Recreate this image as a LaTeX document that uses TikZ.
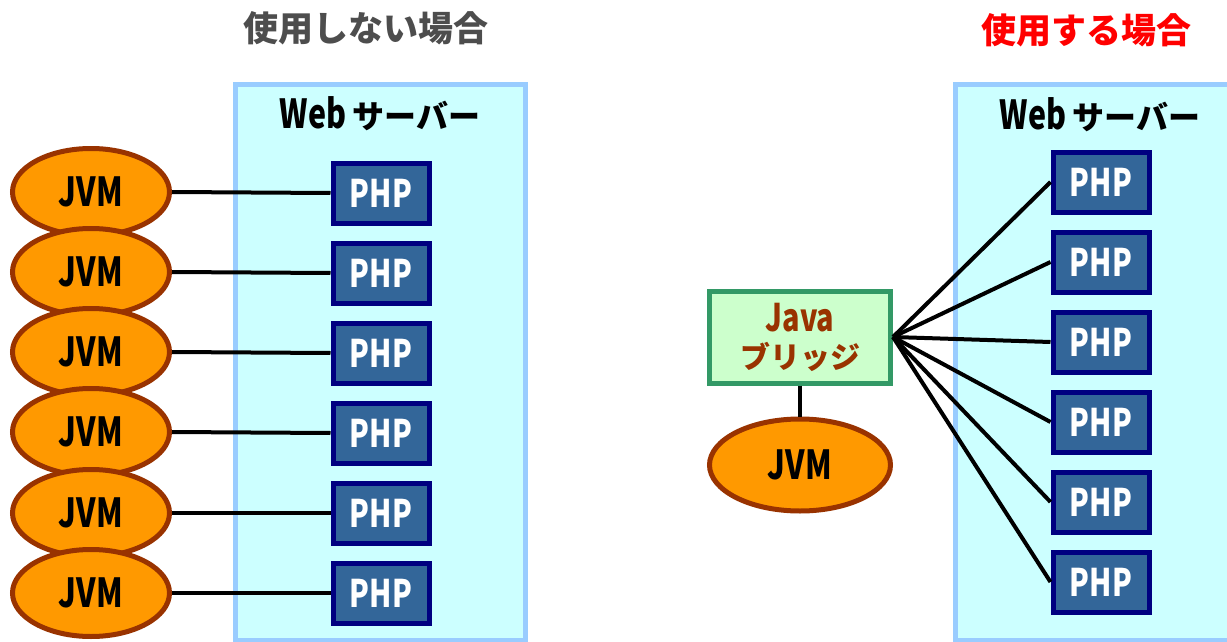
\documentclass[tikz,border=0pt]{standalone}
\usepackage{fontspec}
\setmainfont{Noto Sans CJK JP}
\newfontfamily\narrowfont[FakeStretch=0.76]{Noto Sans CJK JP}
\usetikzlibrary{shapes.geometric}
\definecolor{serverfill}{HTML}{CCFFFF}
\definecolor{serverline}{HTML}{99CCFF}
\definecolor{phpfill}{HTML}{336699}
\definecolor{phpline}{HTML}{000080}
\definecolor{jvmfill}{HTML}{FF9900}
\definecolor{jvmline}{HTML}{993300}
\definecolor{bridgefill}{HTML}{CCFFCC}
\definecolor{bridgeline}{HTML}{339966}
\definecolor{titlegray}{HTML}{4D4D4D}
\begin{document}
\begin{tikzpicture}[
    x=1pt, y=-1pt,
    every node/.style={inner sep=0pt},
    server/.style={draw=serverline, fill=serverfill, line width=5pt},
    php/.style={draw=phpline, fill=phpfill, line width=5pt, minimum width=96pt,
        minimum height=60pt, text=white, font=\narrowfont\bfseries\fontsize{38}{40}\selectfont},
    jvm/.style={ellipse, draw=jvmline, fill=jvmfill, line width=5pt, minimum width=157pt,
        minimum height=87pt, font=\narrowfont\bfseries\fontsize{40}{44}\selectfont},
    bridge/.style={draw=bridgeline, fill=bridgefill, line width=5pt, minimum width=181pt,
        minimum height=92pt, text=jvmline, align=center,
        font=\bfseries\fontsize{30}{37}\selectfont},
    title/.style={font=\bfseries\fontsize{35}{38}\selectfont},
    label/.style={font=\bfseries\fontsize{32}{36}\selectfont},
    link/.style={draw, line width=4pt}
]
\useasboundingbox (0,0) rectangle (1227,642);
% without the bridge
\node[title, text=titlegray] (ltitle) at (366,28) {使用しない場合};
\draw[server] (235,85) rectangle (525,640);
\node[label] (lweb) at (380,114) {{\narrowfont\fontsize{40}{40}\selectfont Web}\hspace{6pt}サーバー};
\node[php] (lphp1) at (381,193) {PHP};
\node[php] (lphp2) at (381,273) {PHP};
\node[php] (lphp3) at (381,353) {PHP};
\node[php] (lphp4) at (381,433) {PHP};
\node[php] (lphp5) at (381,513) {PHP};
\node[php] (lphp6) at (381,593) {PHP};
\node[jvm] (ljvm1) at (91,192) {JVM};
\node[jvm] (ljvm2) at (91,272) {JVM};
\node[jvm] (ljvm3) at (91,352) {JVM};
\node[jvm] (ljvm4) at (91,432) {JVM};
\node[jvm] (ljvm5) at (91,513) {JVM};
\node[jvm] (ljvm6) at (91,593) {JVM};
\draw[link] (ljvm1.east) -- (lphp1.west);
\draw[link] (ljvm2.east) -- (lphp2.west);
\draw[link] (ljvm3.east) -- (lphp3.west);
\draw[link] (ljvm4.east) -- (lphp4.west);
\draw[link] (ljvm5.east) -- (lphp5.west);
\draw[link] (ljvm6.east) -- (lphp6.west);
% with the bridge
\node[title, text=red] (rtitle) at (1086,30) {使用する場合};
\draw[server] (955,85) rectangle (1240,640);
\node[label] (rweb) at (1100,115) {{\narrowfont\fontsize{40}{40}\selectfont Web}\hspace{6pt}サーバー};
\node[php] (rphp1) at (1101,182) {PHP};
\node[php] (rphp2) at (1101,262) {PHP};
\node[php] (rphp3) at (1101,342) {PHP};
\node[php] (rphp4) at (1101,422) {PHP};
\node[php] (rphp5) at (1101,502) {PHP};
\node[php] (rphp6) at (1101,582) {PHP};
\node[bridge] (bridge) at (800,337)
    {{\narrowfont\fontsize{38}{37}\selectfont Java}\\ ブリッジ};
\node[jvm, minimum width=181pt, minimum height=92pt] (rjvm) at (800,465) {JVM};
\draw[link] (bridge.south) -- (rjvm.north);
\draw[link] (bridge.east) -- (rphp1.west);
\draw[link] (bridge.east) -- (rphp2.west);
\draw[link] (bridge.east) -- (rphp3.west);
\draw[link] (bridge.east) -- (rphp4.west);
\draw[link] (bridge.east) -- (rphp5.west);
\draw[link] (bridge.east) -- (rphp6.west);
\end{tikzpicture}
\end{document}
